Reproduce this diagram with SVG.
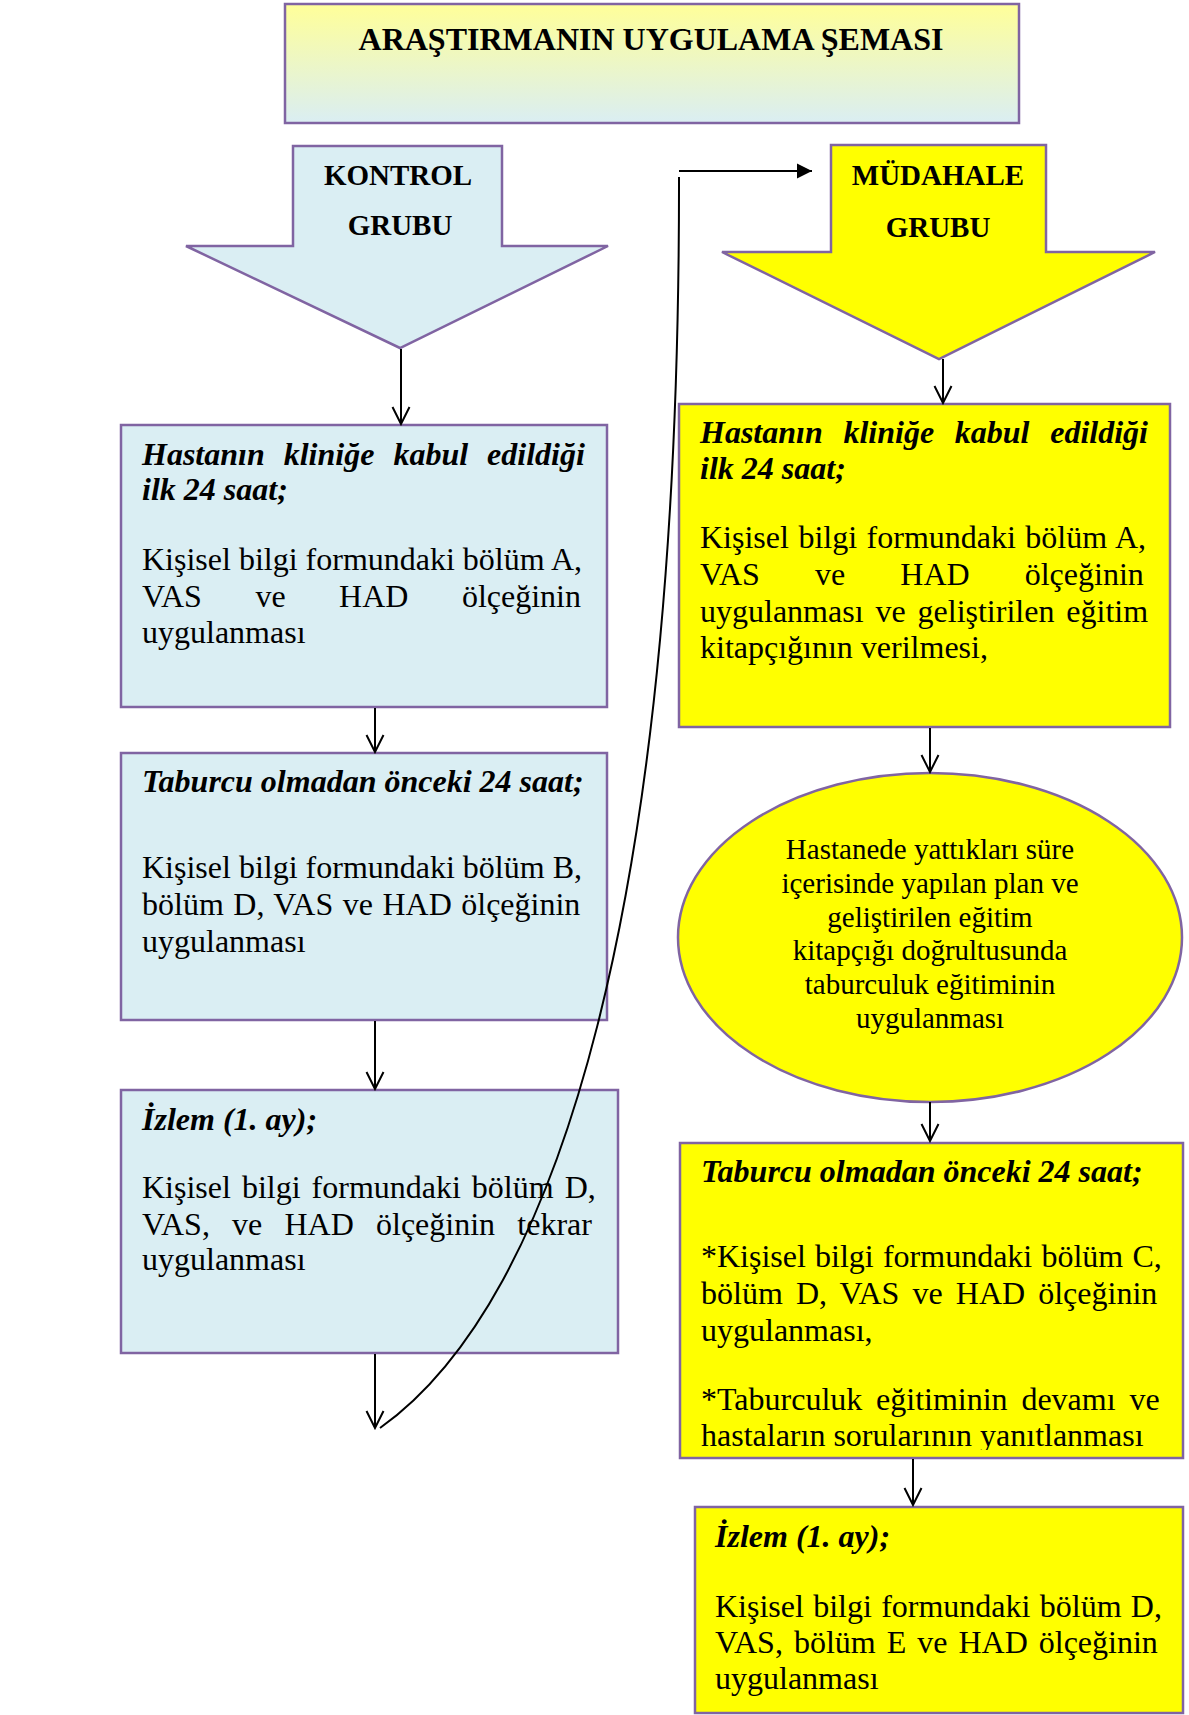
<svg xmlns="http://www.w3.org/2000/svg" width="1189" height="1715" viewBox="0 0 1189 1715">
<style>
.txt{font-family:"Liberation Serif","Times New Roman",serif;fill:#000}
.t{font-size:32px;font-weight:bold;text-anchor:middle}
.g{font-size:29px;font-weight:bold;text-anchor:middle}
.h{font-size:32px;font-weight:bold;font-style:italic}
.b{font-size:32px}
.e{font-size:29px;text-anchor:middle}
.box{stroke:#8064A2;stroke-width:2.5}
.blue{fill:#DAEEF3}
.yel{fill:#FFFF00}
.con{fill:none;stroke:#000;stroke-width:2}
</style>
<defs>
<linearGradient id="tg" x1="0" y1="0" x2="0" y2="1">
<stop offset="0" stop-color="#FFFF99"/>
<stop offset="1" stop-color="#DAEEF3"/>
</linearGradient>
<marker id="open" viewBox="0 0 20 20" refX="18" refY="10" markerWidth="20" markerHeight="20" markerUnits="userSpaceOnUse" orient="auto">
<path d="M1,1.5 L18,10 L1,18.5" fill="none" stroke="#000" stroke-width="2"/>
</marker>
<marker id="solid" viewBox="0 0 16 16" refX="15" refY="8" markerWidth="16" markerHeight="16" markerUnits="userSpaceOnUse" orient="auto">
<path d="M0,0.5 L15,8 L0,15.5 z" fill="#000"/>
</marker>
<clipPath id="clipR2"><rect x="679" y="1142" width="505" height="308"/></clipPath>
</defs>
<rect width="1189" height="1715" fill="#fff"/>

<g id="title">
<rect class="box" x="285" y="4" width="734" height="119" fill="url(#tg)"/>
<text class="txt t" x="651" y="50">ARAŞTIRMANIN UYGULAMA ŞEMASI</text>
</g>

<g id="kontrol">
<polygon class="box blue" points="293,146 502,146 502,246 608,246 400,348 186,246 293,246"/>
<text class="txt g" x="398" y="185">KONTROL</text>
<text class="txt g" x="400" y="235">GRUBU</text>
</g>

<g id="mudahale">
<polygon class="box yel" points="831,145 1046,145 1046,252 1155,252 939,359 722,252 831,252"/>
<text class="txt g" x="938" y="185">MÜDAHALE</text>
<text class="txt g" x="938" y="237">GRUBU</text>
</g>

<g id="k1">
<rect class="box blue" x="121" y="425" width="486" height="282"/>
<text class="txt h" x="142" y="465" word-spacing="11">Hastanın kliniğe kabul edildiği</text>
<text class="txt h" x="142" y="500">ilk 24 saat;</text>
<text class="txt b" x="142" y="570">Kişisel bilgi formundaki bölüm A,</text>
<text class="txt b" x="142" y="607" word-spacing="45.5">VAS ve HAD ölçeğinin</text>
<text class="txt b" x="142" y="643">uygulanması</text>
</g>

<g id="k2">
<rect class="box blue" x="121" y="753" width="486" height="267"/>
<text class="txt h" x="142" y="792">Taburcu olmadan önceki 24 saat;</text>
<text class="txt b" x="142" y="878">Kişisel bilgi formundaki bölüm B,</text>
<text class="txt b" x="142" y="915" word-spacing="1.5">bölüm D, VAS ve HAD ölçeğinin</text>
<text class="txt b" x="142" y="952">uygulanması</text>
</g>

<g id="k3">
<rect class="box blue" x="121" y="1090" width="497" height="263"/>
<text class="txt h" x="142" y="1130">İzlem (1. ay);</text>
<text class="txt b" x="142" y="1198" word-spacing="3">Kişisel bilgi formundaki bölüm D,</text>
<text class="txt b" x="142" y="1235" word-spacing="14.2">VAS, ve HAD ölçeğinin tekrar</text>
<text class="txt b" x="142" y="1270">uygulanması</text>
</g>

<g id="m1">
<rect class="box yel" x="679" y="404" width="491" height="323"/>
<text class="txt h" x="700" y="443" word-spacing="12.7">Hastanın kliniğe kabul edildiği</text>
<text class="txt h" x="700" y="479">ilk 24 saat;</text>
<text class="txt b" x="700" y="548" word-spacing="1.5">Kişisel bilgi formundaki bölüm A,</text>
<text class="txt b" x="700" y="585" word-spacing="47.1">VAS ve HAD ölçeğinin</text>
<text class="txt b" x="700" y="622" word-spacing="3.9">uygulanması ve geliştirilen eğitim</text>
<text class="txt b" x="700" y="658">kitapçığının verilmesi,</text>
</g>

<g id="m2">
<ellipse class="box yel" cx="930" cy="937.5" rx="252" ry="164.5"/>
<text class="txt e" x="930" y="859">Hastanede yattıkları süre</text>
<text class="txt e" x="930" y="893">içerisinde yapılan plan ve</text>
<text class="txt e" x="930" y="927">geliştirilen eğitim</text>
<text class="txt e" x="930" y="960">kitapçığı doğrultusunda</text>
<text class="txt e" x="930" y="994">taburculuk eğitiminin</text>
<text class="txt e" x="930" y="1028">uygulanması</text>
</g>

<g id="m3">
<rect class="box yel" x="680" y="1143" width="503" height="315"/>
<g clip-path="url(#clipR2)">
<text class="txt h" x="701" y="1182">Taburcu olmadan önceki 24 saat;</text>
<text class="txt b" x="701" y="1267" word-spacing="1.2">*Kişisel bilgi formundaki bölüm C,</text>
<text class="txt b" x="701" y="1304" word-spacing="5.1">bölüm D, VAS ve HAD ölçeğinin</text>
<text class="txt b" x="701" y="1341">uygulanması,</text>
<text class="txt b" x="701" y="1410" word-spacing="5.8">*Taburculuk eğitiminin devamı ve</text>
<text class="txt b" x="701" y="1446">hastaların sorularının yanıtlanması</text>
</g>
</g>

<g id="m4">
<rect class="box yel" x="695" y="1507" width="488" height="206"/>
<text class="txt h" x="715" y="1547">İzlem (1. ay);</text>
<text class="txt b" x="715" y="1617" word-spacing="1.3">Kişisel bilgi formundaki bölüm D,</text>
<text class="txt b" x="715" y="1653" word-spacing="3">VAS, bölüm E ve HAD ölçeğinin</text>
<text class="txt b" x="715" y="1689">uygulanması</text>
</g>

<g id="connectors">
<path class="con" d="M401 349 V424" marker-end="url(#open)"/>
<path class="con" d="M375 708 V752" marker-end="url(#open)"/>
<path class="con" d="M375 1021 V1089" marker-end="url(#open)"/>
<path class="con" d="M375 1354 V1428" marker-end="url(#open)"/>
<path class="con" d="M943 359 V403" marker-end="url(#open)"/>
<path class="con" d="M930 728 V772" marker-end="url(#open)"/>
<path class="con" d="M930 1102 V1141" marker-end="url(#open)"/>
<path class="con" d="M913 1459 V1505" marker-end="url(#open)"/>
<path class="con" d="M380 1428 C 560 1300, 680 900, 679 177"/>
<path class="con" d="M679 171 H812" marker-end="url(#solid)"/>
</g>
</svg>
